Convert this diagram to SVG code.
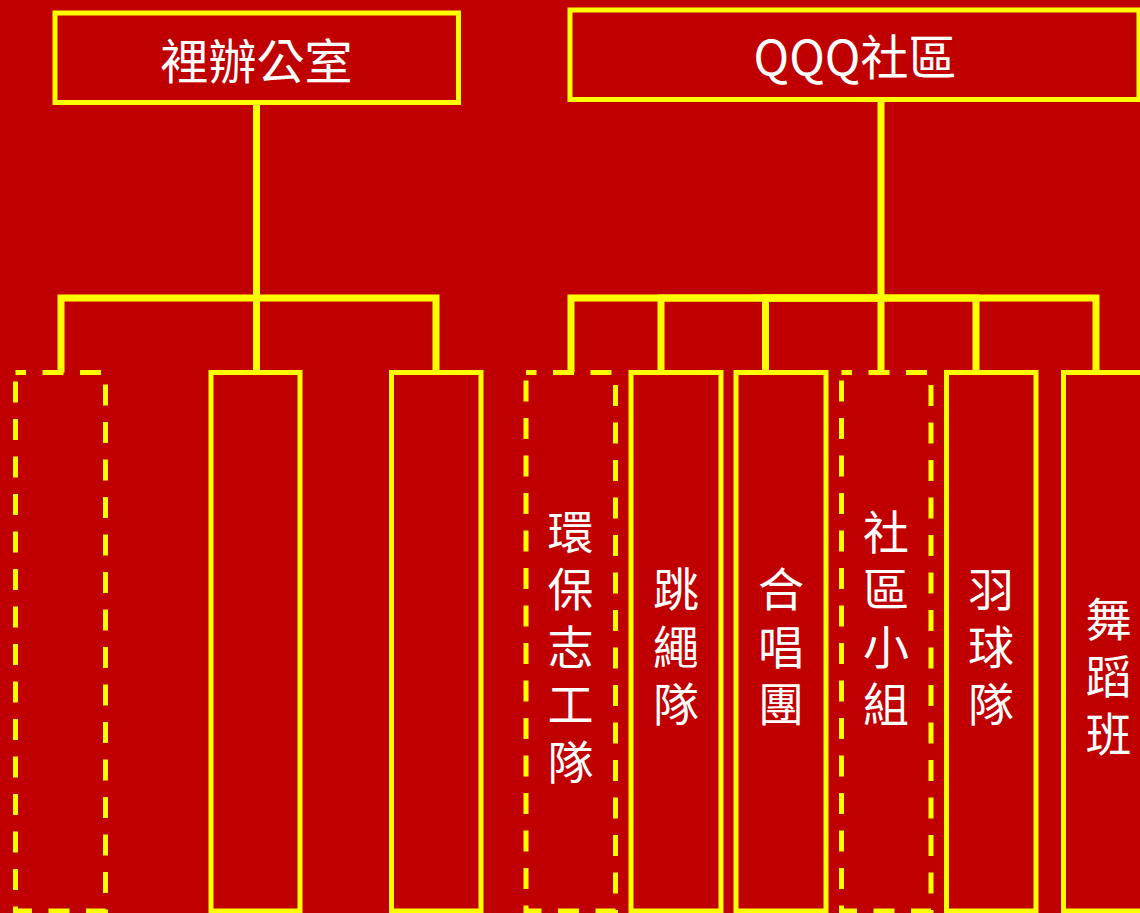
<svg xmlns="http://www.w3.org/2000/svg" width="1140" height="913" viewBox="0 0 1140 913">
<style>
.box{fill:none;stroke:#FFFF00;stroke-width:5}
.dash{fill:none;stroke:#FFFF00;stroke-width:5;stroke-dasharray:21 16.5;stroke-dashoffset:10.5}
.conn{fill:none;stroke:#FFFF00;stroke-width:7;stroke-linecap:butt;stroke-linejoin:miter}
.t{fill:#FFFFFF;font-family:"Noto Sans CJK TC","Noto Sans CJK SC",sans-serif;text-anchor:middle}
.big{font-size:48px}
.v{fill:#FFFFFF;font-family:"Noto Sans CJK TC","Noto Sans CJK SC",sans-serif;font-size:46px;writing-mode:vertical-rl;text-orientation:upright;letter-spacing:11.5px;text-anchor:start}
</style>
<rect width="1140" height="913" fill="#C00000"/>
<g id="connectors">
<path class="conn" d="M256.5 102 V372.5"/>
<path class="conn" d="M256.5 298 H61 V372.5"/>
<path class="conn" d="M256.5 298 H436 V372.5"/>
<path class="conn" d="M881 102 V372.5"/>
<path class="conn" d="M881 298 H571 V372.5"/>
<path class="conn" d="M881 298 H661 V372.5"/>
<path class="conn" d="M881 298 H765.5 V372.5"/>
<path class="conn" d="M881 298 H976 V372.5"/>
<path class="conn" d="M881 298 H1096 V372.5"/>
</g>
<g id="n_office">
<rect class="box" x="55" y="13" width="403.5" height="89.5"/>
<text class="t big" x="256.5" y="79">裡辦公室</text>
</g>
<g id="n_community">
<rect class="box" x="570" y="10" width="569" height="89.5"/>
<text class="t big" x="855" y="75">QQQ社區</text>
</g>
<g id="n_l1"><rect class="dash" x="15.5" y="372.5" width="90" height="538.5"/></g>
<g id="n_l2"><rect class="box" x="211" y="372.5" width="89" height="538.5"/></g>
<g id="n_l3"><rect class="box" x="391.5" y="372.5" width="89.5" height="538.5"/></g>
<g id="n_env">
<rect class="dash" x="526" y="372.5" width="89.5" height="538.5"/>
<text class="v" x="570.5" y="508.5">環保志工隊</text>
</g>
<g id="n_rope">
<rect class="box" x="631" y="372.5" width="90" height="538.5"/>
<text class="v" x="676" y="566">跳繩隊</text>
</g>
<g id="n_choir">
<rect class="box" x="736" y="372.5" width="90" height="538.5"/>
<text class="v" x="781" y="566">合唱團</text>
</g>
<g id="n_group">
<rect class="dash" x="841.5" y="372.5" width="89.5" height="538.5"/>
<text class="v" x="886" y="508.5">社區小組</text>
</g>
<g id="n_badminton">
<rect class="box" x="946.5" y="372.5" width="89.5" height="538.5"/>
<text class="v" x="991" y="566">羽球隊</text>
</g>
<g id="n_dance">
<rect class="box" x="1063.5" y="372.5" width="90" height="538.5"/>
<text class="v" x="1108.5" y="595.5">舞蹈班</text>
</g>
</svg>
